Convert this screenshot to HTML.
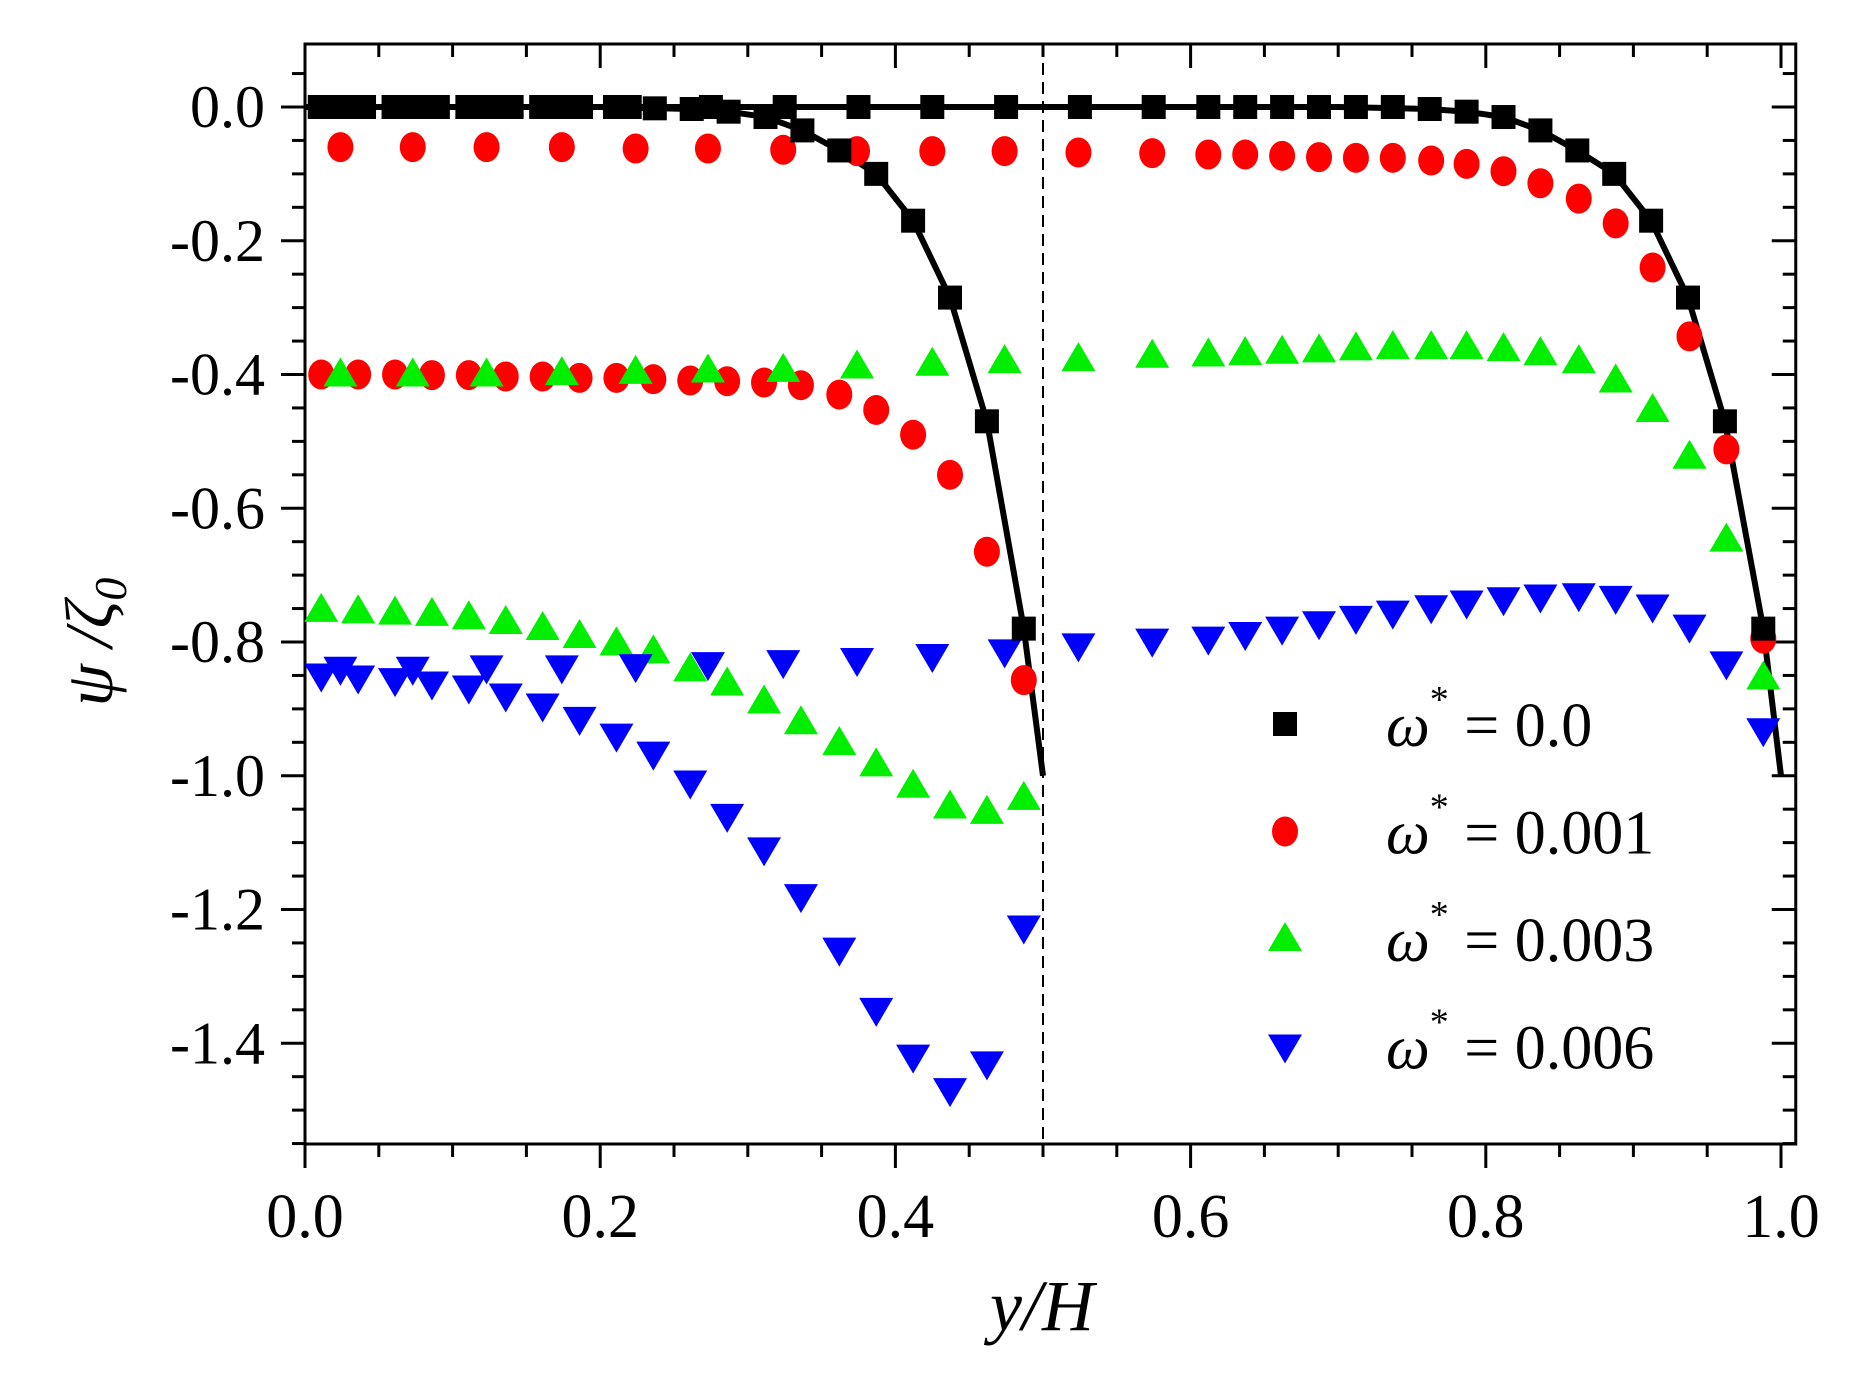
<!DOCTYPE html>
<html><head><meta charset="utf-8">
<style>
html,body{margin:0;padding:0;background:#fff;}
svg{display:block;}
text{font-family:"Liberation Serif","DejaVu Serif",serif;fill:#000;}
</style></head>
<body>
<svg id="chart" width="1855" height="1382" viewBox="0 0 1855 1382" xmlns="http://www.w3.org/2000/svg">
<g id="grid-layer"></g>
<g id="mark-layer"></g>
<g id="legend"></g>
<text x="1042" y="1330" font-size="72" font-style="italic" text-anchor="middle">y/H</text>
<text transform="translate(112,642) rotate(-90)" font-size="68" font-style="italic" text-anchor="middle">ψ /ζ<tspan font-size="46" dy="14">0</tspan></text>
</svg>
<script>
// ---- data ----
const xTicks = [0.0, 0.2, 0.4, 0.6, 0.8, 1.0];
const xTickLabels = ["0.0","0.2","0.4","0.6","0.8","1.0"];
const yTicks = [0.0, -0.2, -0.4, -0.6, -0.8, -1.0, -1.2, -1.4];
const yTickLabels = ["0.0","-0.2","-0.4","-0.6","-0.8","-1.0","-1.2","-1.4"];
const legendLabels = ["0.0","0.001","0.003","0.006"];

const blackX = [0.01,0.02,0.03,0.04,0.06,0.07,0.08,0.09,0.11,0.12,0.13,0.14,0.16,0.17,0.18,0.21,0.22,0.275,0.325,0.375,0.425,0.475,0.525,0.575,0.612,0.637,0.662,0.687,0.712,0.737,0.762,0.787,0.812,0.837,0.862,0.887,0.912,0.937,0.962,0.988];
const blackY = [0,0,0,0,0,0,0,0,0,0,0,0,0,0,0,0,0,0,0,0,0,0,0,0,0,0,0,0,0,0,-0.003,-0.007,-0.015,-0.035,-0.065,-0.1,-0.17,-0.285,-0.47,-0.78];
const blackHalfX = [0.187,0.237,0.262,0.287,0.312,0.337,0.362,0.387,0.412,0.437,0.462,0.487];
const blackHalfY = [0,-0.002,-0.003,-0.007,-0.015,-0.035,-0.065,-0.1,-0.17,-0.285,-0.47,-0.78];
const lineFullX = [0,0.7,0.762,0.787,0.812,0.837,0.862,0.887,0.912,0.937,0.962,0.988,1.0];
const lineFullY = [0,0,-0.003,-0.007,-0.015,-0.035,-0.065,-0.1,-0.17,-0.285,-0.47,-0.78,-1.0];
const lineHalfX = [0.2,0.262,0.287,0.312,0.337,0.362,0.387,0.412,0.437,0.462,0.487,0.5];
const lineHalfY = [0,-0.003,-0.007,-0.015,-0.035,-0.065,-0.1,-0.17,-0.285,-0.47,-0.78,-1.0];

const upperX = [0.024,0.073,0.123,0.174,0.224,0.273,0.324,0.374,0.425,0.474,0.524,0.574,0.612,0.637,0.662,0.687,0.712,0.737,0.763,0.787,0.812,0.837,0.863,0.888,0.913,0.938,0.963,0.988];
const lowerX = [0.011,0.036,0.061,0.086,0.111,0.136,0.161,0.186,0.211,0.236,0.261,0.286,0.311,0.336,0.362,0.387,0.412,0.437,0.462,0.487];

const redUpperY = [-0.06,-0.06,-0.06,-0.06,-0.062,-0.062,-0.064,-0.066,-0.066,-0.066,-0.068,-0.069,-0.071,-0.071,-0.073,-0.075,-0.076,-0.076,-0.08,-0.085,-0.096,-0.114,-0.137,-0.174,-0.24,-0.343,-0.512,-0.795];
const redLowerY = [-0.4,-0.4,-0.4,-0.401,-0.401,-0.403,-0.403,-0.405,-0.405,-0.407,-0.409,-0.41,-0.412,-0.416,-0.43,-0.453,-0.49,-0.55,-0.665,-0.857];

const greenUpperY = [-0.4,-0.4,-0.4,-0.398,-0.396,-0.394,-0.393,-0.388,-0.384,-0.38,-0.377,-0.372,-0.37,-0.368,-0.366,-0.364,-0.361,-0.359,-0.359,-0.359,-0.362,-0.368,-0.38,-0.409,-0.453,-0.523,-0.647,-0.853];
const greenLowerY = [-0.752,-0.754,-0.756,-0.758,-0.763,-0.77,-0.779,-0.791,-0.802,-0.814,-0.841,-0.862,-0.889,-0.92,-0.951,-0.983,-1.015,-1.046,-1.054,-1.033];

const blueUpperY = [-0.84,-0.84,-0.838,-0.838,-0.836,-0.833,-0.83,-0.827,-0.821,-0.814,-0.805,-0.798,-0.795,-0.788,-0.78,-0.772,-0.764,-0.756,-0.748,-0.741,-0.736,-0.732,-0.73,-0.734,-0.747,-0.777,-0.832,-0.932];
const blueLowerY = [-0.85,-0.853,-0.857,-0.862,-0.868,-0.88,-0.895,-0.915,-0.94,-0.967,-1.01,-1.06,-1.11,-1.18,-1.26,-1.35,-1.42,-1.47,-1.43,-1.227];

// ---- scales ----
const X0 = 305, XS = 1476, Y0 = 107, YS = 668.75;
function px(x){ return X0 + x*XS; }
function py(v){ return Y0 - v*YS; }
const L = 305, R = px(1.01), T = 44, B = 1144;
const NS = "http://www.w3.org/2000/svg";
function mk(tag, attrs, parent){
  const e = document.createElementNS(NS, tag);
  for (const k in attrs) e.setAttribute(k, attrs[k]);
  parent.appendChild(e);
  return e;
}
const g = document.getElementById('grid-layer');
const m = document.getElementById('mark-layer');
const lg = document.getElementById('legend');

const frame = mk('rect', {x:L, y:T, width:R-L, height:B-T, fill:'none', stroke:'#000', 'stroke-width':3}, g);



for (let i = 0; i <= 20; i++) {
  const xv = i*0.05; const xx = px(xv);
  const major = (i % 4 === 0);
  const len = major ? 24 : 13;
  const t1 = mk('line', {x1:xx, y1:B, x2:xx, y2:B+len, stroke:'#000', 'stroke-width':3}, g);
  
  
  const t2 = mk('line', {x1:xx, y1:T, x2:xx, y2:T+len, stroke:'#000', 'stroke-width':3}, g);
  
  
}
xTicks.forEach((v, i) => {
  const t = mk('text', {x:px(v), y:1237, 'font-size':62, 'text-anchor':'middle'}, g);
  t.textContent = xTickLabels[i];
  
  
});
for (let i = -2; i <= 31; i++) {
  const v = -i*0.05; const yy = py(v);
  if (yy < T || yy > B) continue;
  const major = (i % 4 === 0);
  const len = major ? 24 : 13;
  const t1 = mk('line', {x1:L-len, y1:yy, x2:L, y2:yy, stroke:'#000', 'stroke-width':3}, g);
  
  
  const t2 = mk('line', {x1:R-len, y1:yy, x2:R, y2:yy, stroke:'#000', 'stroke-width':3}, g);
  
  
}
yTicks.forEach((v, i) => {
  const t = mk('text', {x:265, y:py(v)+20, 'font-size':60, 'text-anchor':'end'}, g);
  t.textContent = yTickLabels[i];
  
  
});
const mid = mk('line', {x1:px(0.5), y1:T, x2:px(0.5), y2:B, stroke:'#000', 'stroke-width':2, 'stroke-dasharray':'12 7'}, g);



function poly(xs, ys, name){
  const pts = xs.map((x, i) => px(x).toFixed(1) + ',' + py(ys[i]).toFixed(1)).join(' ');
  const p = mk('polyline', {points:pts, fill:'none', stroke:'#000', 'stroke-width':6, 'stroke-linejoin':'round'}, m);
  
  
}
poly(lineFullX, lineFullY, 'line-omega-0-full');
poly(lineHalfX, lineHalfY, 'line-omega-0-half');

function marker(type, cx, cy, parent){
  let e;
  if (type === 'sq') e = mk('rect', {x:cx-12, y:cy-12, width:24, height:24, fill:'#000'}, parent);
  else if (type === 'ci') e = mk('ellipse', {cx:cx, cy:cy, rx:13, ry:15, fill:'#ff0000'}, parent);
  else if (type === 'up') e = mk('polygon', {points:`${cx},${cy-17} ${cx-17},${cy+12} ${cx+17},${cy+12}`, fill:'#00ee00'}, parent);
  else e = mk('polygon', {points:`${cx-17},${cy-12} ${cx+17},${cy-12} ${cx},${cy+17}`, fill:'#0000ff'}, parent);
  return e;
}
function series(xs, ys, type, name){
  xs.forEach((x, i) => {
    const e = marker(type, px(x), py(ys[i]), m);
    
    
  });
}
series(upperX, redUpperY, 'ci', 'point-omega-0.001');
series(lowerX, redLowerY, 'ci', 'point-omega-0.001');
series(upperX, greenUpperY, 'up', 'point-omega-0.003');
series(lowerX, greenLowerY, 'up', 'point-omega-0.003');
series(upperX, blueUpperY, 'dn', 'point-omega-0.006');
series(lowerX, blueLowerY, 'dn', 'point-omega-0.006');
series(blackX, blackY, 'sq', 'point-omega-0');
series(blackHalfX, blackHalfY, 'sq', 'point-omega-0');

const types = ['sq','ci','up','dn'];
legendLabels.forEach((lab, i) => {
  const y = 724 + i*107.5;
  const e = marker(types[i], 1285, y, lg);
  
  
  const t = mk('text', {x:1386, y:y+22, 'font-size':62}, lg);
  t.innerHTML = '<tspan font-style="italic">ω</tspan><tspan font-size="38" dy="-34">*</tspan><tspan dy="34"> = ' + lab + '</tspan>';
  
  
});
</script>
</body></html>
